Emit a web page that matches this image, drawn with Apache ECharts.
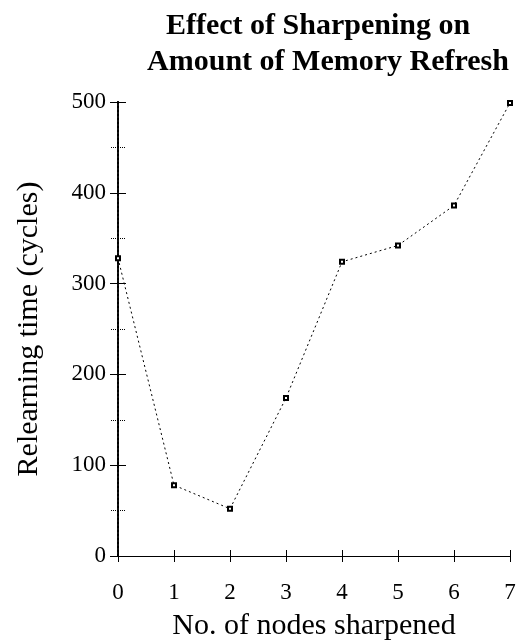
<!DOCTYPE html>
<html>
<head>
<meta charset="utf-8">
<script src="https://cdn.jsdelivr.net/npm/echarts@6/dist/echarts.min.js"></script>
<style>
  html, body { margin: 0; padding: 0; background: #fff; }
  #main { width: 520px; height: 642px; }
</style>
</head>
<body>
<div id="main"></div>
<script>
// nodes sharpened vs relearning time
var nodes = [0, 1, 2, 3, 4, 5, 6, 7];
var cycles = [328, 78, 52, 174, 324, 342, 386, 499];

var chart = echarts.init(document.getElementById('main'));
var serif = 'Liberation Serif';
var titleStyle = { fontFamily: serif, fontWeight: 'bold', fontSize: 30, color: '#000' };
var plot = { left: 118, right: 10, top: 102, bottom: 86, outerBoundsMode: 'none', containLabel: false };

// shared look for the axes, the copy on grid 1 only draws the inner half of the ticks
function xAx(inner) {
    return {
        gridIndex: inner ? 1 : 0,
        type: 'value',
        position: 'bottom',
        min: 0,
        max: 7,
        interval: 1,
        name: inner ? '' : 'No. of nodes sharpened',
        nameLocation: 'middle',
        nameGap: 55,
        nameTextStyle: { fontFamily: serif, fontSize: 30, color: '#000' },
        axisLine: { onZero: false, lineStyle: { color: '#000', width: 1 } },
        axisTick: { inside: inner, length: 6, lineStyle: { color: '#000' } },
        axisLabel: { show: !inner, fontFamily: serif, fontSize: 23, color: '#000', margin: 25 },
        splitLine: { show: false }
    };
}
function yAx(inner) {
    return {
        gridIndex: inner ? 1 : 0,
        type: 'value',
        position: 'left',
        min: 0,
        max: 500,
        interval: 100,
        name: inner ? '' : 'Relearning time (cycles)',
        nameLocation: 'middle',
        nameGap: 74,
        nameTextStyle: { fontFamily: serif, fontSize: 30, color: '#000' },
        axisLine: { onZero: false, lineStyle: { color: '#000', width: 2, type: 'dotted' } },
        axisTick: { inside: inner, length: 8, lineStyle: { color: '#000' } },
        minorTick: { show: true, splitNumber: 2, length: 7, lineStyle: { color: '#000', type: 'dotted' } },
        axisLabel: { show: !inner, fontFamily: serif, fontSize: 23, color: '#000', margin: 12 },
        splitLine: { show: false }
    };
}

var option = {
    backgroundColor: '#fff',
    animation: false,
    title: [{
        text: 'Effect of Sharpening on',
        left: 313,
        top: 6,
        textAlign: 'center',
        textStyle: titleStyle
    }, {
        text: 'Amount of Memory Refresh',
        left: 323,
        top: 42,
        textAlign: 'center',
        textStyle: titleStyle
    }],
    grid: [plot, plot],
    xAxis: [xAx(false), xAx(true)],
    yAxis: [yAx(false), yAx(true)],
    series: [{
        type: 'line',
        xAxisIndex: 0,
        yAxisIndex: 0,
        data: nodes.map(function (n, i) { return [n, cycles[i]]; }),
        symbol: 'emptyRect',
        symbolSize: 4,
        lineStyle: { color: '#000', width: 1, type: [2, 3] },
        itemStyle: { color: '#000', borderWidth: 1 }
    }]
};

chart.setOption(option);
</script>
</body>
</html>
